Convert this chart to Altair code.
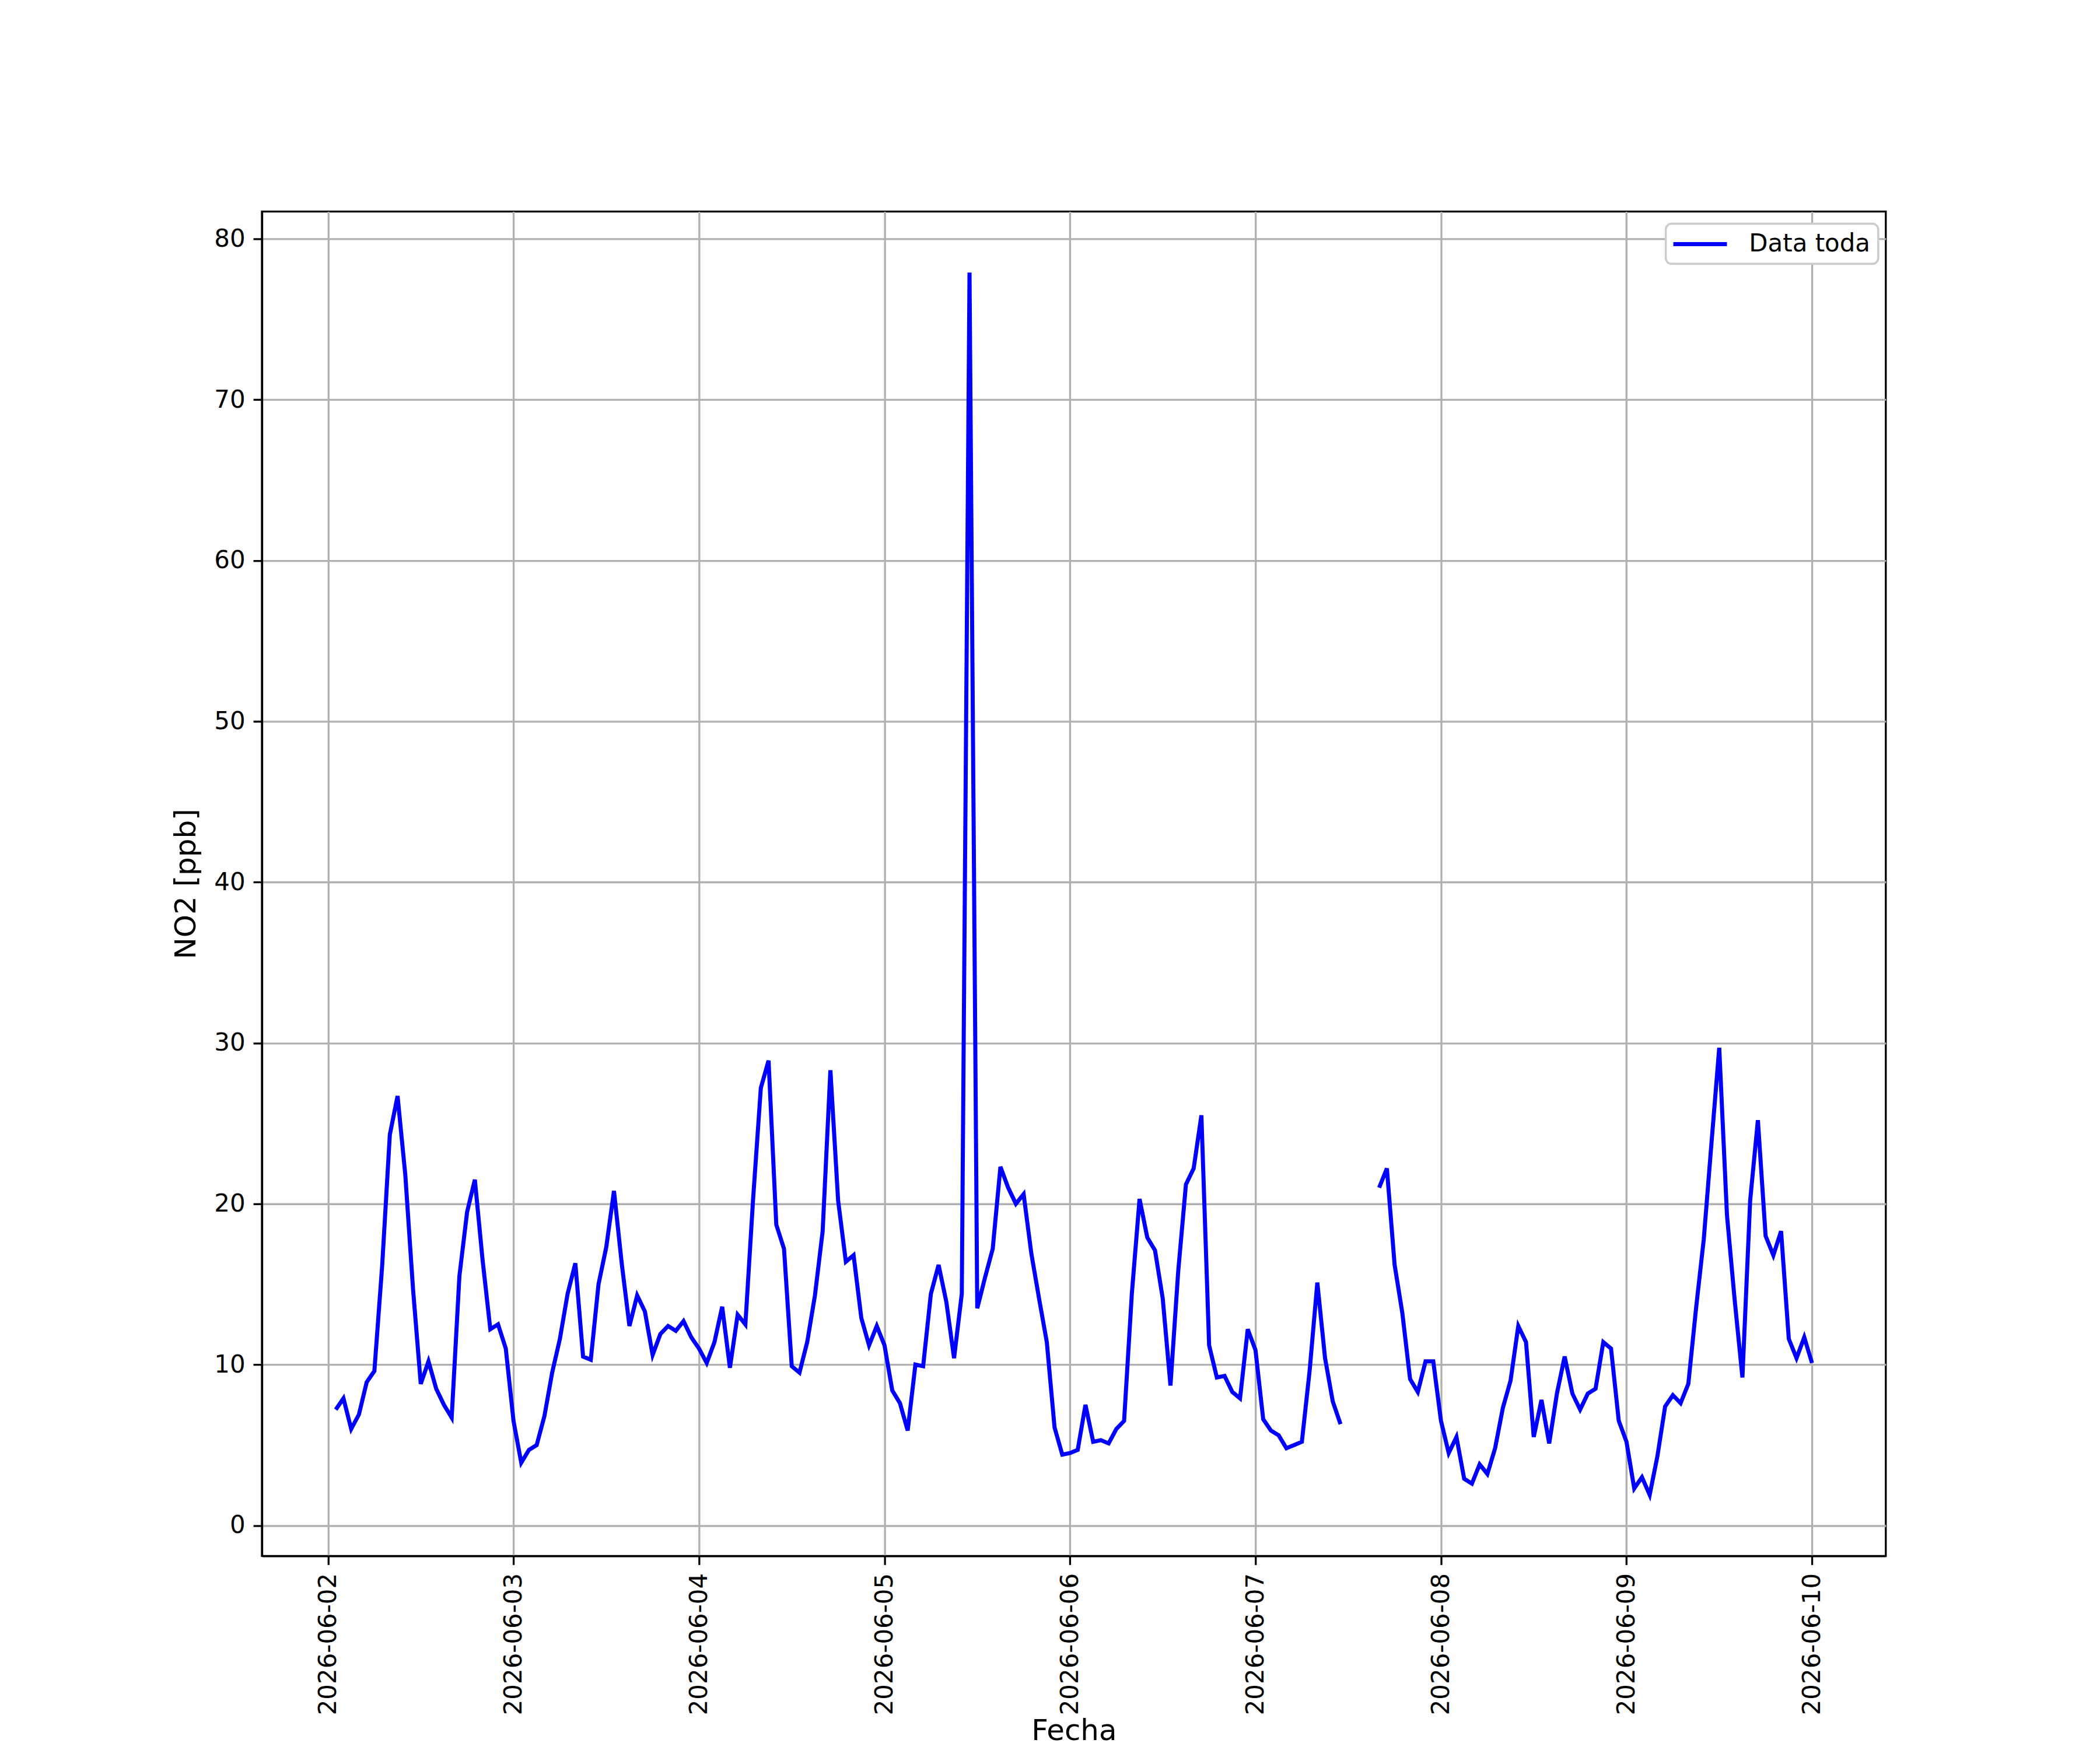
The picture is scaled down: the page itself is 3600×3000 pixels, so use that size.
import altair as alt
import pandas as pd

# NO2 hourly values [ppb]
day_0602 = [7.2, 7.9, 6.0, 6.9, 8.9, 9.6, 16.1, 24.3, 26.7, 21.8, 14.7, 8.8,
            10.2, 8.5, 7.5, 6.7, 15.5, 19.5, 21.5, 16.5, 12.2, 12.5, 11.0]  # 01h..23h
day_0603 = [6.5, 3.9, 4.7, 5.0, 6.8, 9.5, 11.6, 14.4, 16.3, 10.5, 10.3, 15.0,
            17.3, 20.8, 16.3, 12.4, 14.3, 13.3, 10.6, 11.9, 12.4, 12.1, 12.7, 11.7]
day_0604 = [11.0, 10.1, 11.4, 13.6, 9.8, 13.1, 12.5, 20.3, 27.2, 28.9, 18.7, 17.2,
            9.9, 9.5, 11.4, 14.3, 18.3, 28.3, 20.2, 16.4, 16.8, 12.9, 11.2, 12.4]
day_0605 = [11.2, 8.4, 7.6, 5.9, 10.0, 9.9, 14.4, 16.2, 13.9, 10.4, 14.4, 77.9,
            13.5, 15.4, 17.2, 22.3, 21.0, 20.0, 20.6, 16.9, 14.1, 11.4, 6.1, 4.4]
day_0606 = [4.5, 4.7, 7.5, 5.2, 5.3, 5.1, 6.0, 6.5, 14.4, 20.3, 17.9, 17.1,
            14.1, 8.7, 15.8, 21.2, 22.2, 25.5, 11.2, 9.2, 9.3, 8.3, 7.9, 12.2]
day_0607 = [10.9, 6.6, 5.9, 5.6, 4.8, 5.0, 5.2, 9.6, 15.1, 10.4, 7.7, 6.3,
            None, None, None, None, 21.0, 22.2, 16.2, 13.2, 9.1, 8.3, 10.2, 10.2]
day_0608 = [6.5, 4.5, 5.5, 2.9, 2.6, 3.8, 3.2, 4.8, 7.3, 9.0, 12.4, 11.4,
            5.5, 7.8, 5.1, 8.2, 10.5, 8.2, 7.2, 8.2, 8.5, 11.4, 11.0, 6.5]
day_0609 = [5.2, 2.3, 3.0, 1.9, 4.3, 7.4, 8.1, 7.6, 8.8, 13.5, 17.8, 23.8,
            29.7, 19.3, 14.0, 9.2, 20.2, 25.2, 18.0, 16.8, 18.3, 11.6, 10.4, 11.7]
day_0610 = [10.1]  # 00h

values = (day_0602 + day_0603 + day_0604 + day_0605 + day_0606 +
          day_0607 + day_0608 + day_0609 + day_0610)

start = "2026-06-02 01:00"
times = pd.date_range(start, periods=len(values), freq="h", tz="UTC")
df = pd.DataFrame({
    "Fecha": times.strftime("%Y-%m-%dT%H:%M:%SZ"),
    "NO2": values,
    "serie": ["Data toda"] * len(values),
})

tick_days = pd.date_range("2026-06-02", "2026-06-10", freq="D", tz="UTC")
tick_ms = [int(t.value // 10**6) for t in tick_days]

t0 = times[0].value // 10**6
t1 = times[-1].value // 10**6
margin = (t1 - t0) * 0.05
x_domain = [t0 - margin, t1 + margin]

ymin = min(v for v in values if v is not None)
ymax = max(v for v in values if v is not None)
ym = (ymax - ymin) * 0.05
y_domain = [ymin - ym, ymax + ym]
y_ticks = [0, 10, 20, 30, 40, 50, 60, 70, 80]

FONT = "DejaVu Sans"

chart = alt.Chart(df).mark_line(strokeWidth=7, clip=True).encode(
    x=alt.X(
        "Fecha:T",
        scale=alt.Scale(type="utc", domain=x_domain, nice=False),
        axis=alt.Axis(
            title="Fecha",
            values=tick_ms,
            labelExpr="utcFormat(datum.value, '%Y-%m-%d')",
            labelAngle=270,
            labelFontSize=42,
            labelPadding=14,
            labelLimit=600,
            tickSize=15,
            tickWidth=3.3,
            tickColor="black",
            domainColor="black",
            domainWidth=3.3,
            gridColor="#b0b0b0",
            gridWidth=3.3,
            titleFontSize=50,
            titleFontWeight="normal",
            titleY=316,
            titleBaseline="alphabetic",
            labelColor="black",
            titleColor="black",
        ),
    ),
    y=alt.Y(
        "NO2:Q",
        scale=alt.Scale(domain=y_domain, nice=False, zero=False),
        axis=alt.Axis(
            title="NO2 [ppb]",
            values=y_ticks,
            format="d",
            labelFontSize=42,
            labelPadding=14,
            tickSize=15,
            tickWidth=3.3,
            tickColor="black",
            domainColor="black",
            domainWidth=3.3,
            gridColor="#b0b0b0",
            gridWidth=3.3,
            titleFontSize=50,
            titleFontWeight="normal",
            titlePadding=22,
            labelColor="black",
            titleColor="black",
        ),
    ),
    color=alt.Color(
        "serie:N",
        scale=alt.Scale(domain=["Data toda"], range=["#0000ff"]),
        legend=alt.Legend(
            title=None,
            orient="none",
            legendX=2412,
            legendY=21,
            symbolType="M-2.49,0H2.49",
            symbolStrokeWidth=7,
            symbolSize=1369,
            symbolOffset=24,
            labelFontSize=42,
            labelOffset=62,
            labelLimit=600,
            padding=13,
            fillColor="white",
            strokeColor="#cccccc",
            cornerRadius=10,
            labelColor="black",
        ),
    ),
).properties(
    width=2790,
    height=2310,
    autosize=alt.AutoSizeParams(type="none"),
    padding={"left": 442, "top": 352, "right": 360, "bottom": 330},
).configure(
    font=FONT,
).configure_view(
    stroke="black",
    strokeWidth=3.3,
).configure_legend(
    strokeWidth=3.5,
)

chart.save("out.html", embed_options={"renderer": "svg", "actions": False})
